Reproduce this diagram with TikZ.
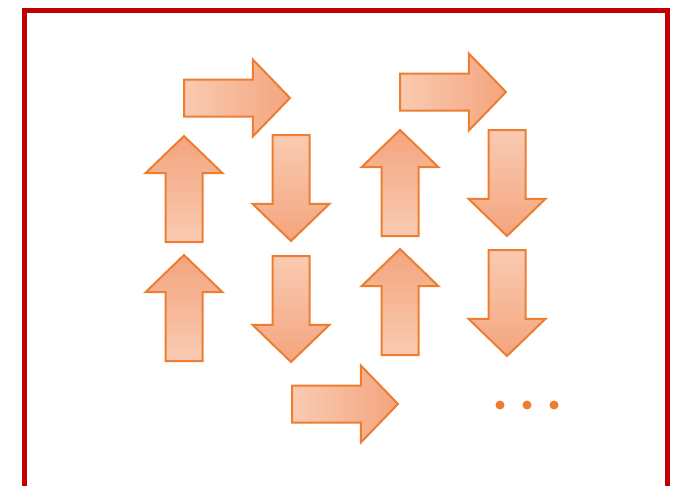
\documentclass[tikz,border=0pt]{standalone}
\usetikzlibrary{shapes.arrows}
\definecolor{framered}{RGB}{192,0,0}
\definecolor{arrline}{RGB}{237,125,49}
\definecolor{arrlight}{RGB}{249,203,178}
\definecolor{arrdark}{RGB}{244,164,126}
\begin{document}
\begin{tikzpicture}[x=1pt,y=-1pt,
      arr/.style={single arrow,draw=arrline,line width=2pt,inner sep=17.5pt,outer sep=0pt,
        minimum height=106pt,single arrow head extend=20pt,single arrow tip angle=92,anchor=tail},
      rarrow/.style={arr,left color=arrlight,right color=arrdark},
      uarrow/.style={arr,shape border rotate=90,bottom color=arrlight,top color=arrdark},
      darrow/.style={arr,shape border rotate=270,top color=arrlight,bottom color=arrdark}]
    \clip (0,0) rectangle (674,485);
    % frame, open at the bottom
    \draw[framered,line width=5pt] (24,500) -- (24,10) -- (667,10) -- (667,500);
    % first column pair
    \node[rarrow] (r1) at (184,98) {};
    \node[uarrow] (u1) at (184,242) {};
    \node[darrow] (d1) at (291,135) {};
    \node[uarrow] (u3) at (184,361) {};
    \node[darrow] (d3) at (291,256) {};
    % second column pair
    \node[rarrow] (r2) at (400,92) {};
    \node[uarrow] (u2) at (400,236) {};
    \node[darrow] (d2) at (507,130) {};
    \node[uarrow] (u4) at (400,355) {};
    \node[darrow] (d4) at (507,250) {};
    % bottom
    \node[rarrow] (r3) at (292,404) {};
    \foreach \x/\n in {500/a,527/b,554/c}
      \fill[arrline] (\x,405) circle (4.5pt) coordinate (dot\n);
\end{tikzpicture}
\end{document}
